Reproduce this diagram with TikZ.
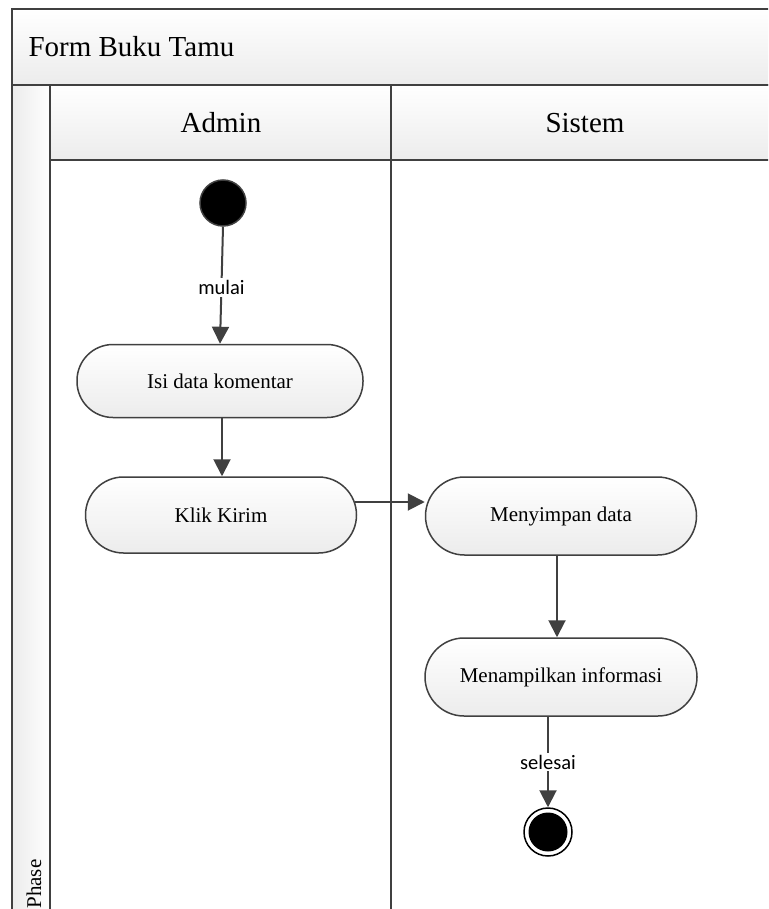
\documentclass[tikz,border=0pt]{standalone}
\usepackage{fontspec}
\setmainfont{Liberation Serif}
\newfontfamily\labelfont{Carlito}
\usetikzlibrary{arrows.meta}
\definecolor{edge}{HTML}{404040}
\definecolor{shadelo}{HTML}{ECECEC}
\tikzset{
  lane/.style={draw=edge, line width=2pt, top color=white, bottom color=shadelo},
  action/.style={draw=edge, line width=1.5pt, top color=white, bottom color=shadelo,
    inner sep=0pt, font=\fontsize{21}{24}\selectfont},
  flow/.style={draw=edge, line width=2pt, -{Triangle[length=17pt,width=17pt]}},
  guard/.style={fill=white, inner sep=2pt, font=\labelfont\fontsize{20.5}{22}\selectfont},
  head/.style={font=\fontsize{29}{32}\selectfont},
}
\begin{document}
\begin{tikzpicture}[x=1pt,y=-1pt]
\clip (0,0) rectangle (768,909);
\fill[white] (0,0) rectangle (768,909);

% swimlane frame
\path[lane] (12,9) rectangle (800,85);
\path[draw=edge, line width=2pt, left color=shadelo, right color=white] (12,85) rectangle (50,940);
\path[lane] (50,85) rectangle (391,160);
\path[lane] (391,85) rectangle (800,160);
\draw[edge, line width=2pt] (50,160) -- (50,940);
\draw[edge, line width=2pt] (391,160) -- (391,940);

\node[head, anchor=base west] (title) at (25,57) {Form Buku Tamu};
\node[head, anchor=base] (admin) at (221,133) {Admin};
\node[head, anchor=base] (sistem) at (585,133) {Sistem};
\node[rotate=90, font=\fontsize{21}{24}\selectfont] (phase) at (34,884) {Phase};

% activities
\node[circle, draw=edge, line width=1.5pt, fill=black, minimum size=46pt, inner sep=0pt] (start) at (223,203) {};
\node[action, rounded corners=36pt, minimum width=286pt, minimum height=73pt] (isi) at (220,381) {Isi data komentar};
\node[action, rounded corners=38pt, minimum width=271pt, minimum height=76pt] (klik) at (221,515) {Klik Kirim};
\node[action, rounded corners=39pt, minimum width=271pt, minimum height=78pt] (simpan) at (561,516) {Menyimpan data};
\node[action, rounded corners=39pt, minimum width=272pt, minimum height=78pt] (tampil) at (561,677) {Menampilkan informasi};
\node[circle, draw=black, line width=1.5pt, fill=white, minimum size=48pt, inner sep=0pt,
  path picture={\fill[black] (path picture bounding box.center) circle (19.5pt);}] (stop) at (548,832) {};

% transitions
\draw[flow] (start.south) -- node[guard, pos=0.52] {mulai} (isi.north);
\draw[flow] ([xshift=2pt]isi.south) -- ([xshift=1pt]klik.north);
\draw[flow] ([xshift=-2pt,yshift=13pt]klik.east) -- ([yshift=13pt]klik.east -| simpan.west);
\draw[flow] ([xshift=-4pt]simpan.south) -- ([xshift=-4pt]tampil.north);
\draw[flow] ([xshift=-13pt]tampil.south) -- node[guard, pos=0.5] {selesai} (stop.north);
\end{tikzpicture}
\end{document}
